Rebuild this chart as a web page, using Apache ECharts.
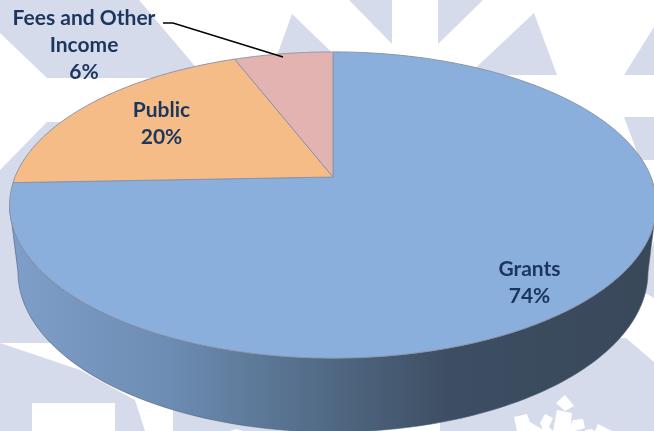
<!DOCTYPE html>
<html>
<head>
<meta charset="utf-8">
<style>
    html, body { margin: 0; padding: 0; background: #fff; }
    #main { width: 654px; height: 431px; }
</style>
<script src="https://cdn.jsdelivr.net/npm/echarts@6/dist/echarts.min.js"></script>
</head>
<body>
<div id="main"></div>
<script>
// clockwise from 12 o'clock is Grants, then Public, then Fees
const categories = ["Grants", "Public", "Fees and\u00a0Other\nIncome"];
const shares = [74.4, 19.7, 5.9];

const sliceColors = ["#8aafdc", "#f6bc88", "#e3b3b2"];
const labelSpots = [[529.5, 283], [161.5, 124], [84, 45]];
const leaderLine = [[163, 23], [173, 23], [283, 57]];

// tilted disc: circle centre, half sizes and perspective factor
const disc = { x: 333, y: 177, b: 318, a: 148, k: 0.183 };
const rim = { x: 333, y: 272, rx: 315, ry: 160 };

// watermark behind the pie
const shadeShapes = [
    [[0, 0], [139, 0], [205, 78], [47, 78], [0, 33]],
    [[292, 14], [345, 65], [270, 75]],
    [[0, 170], [47, 122], [120, 122], [120, 343], [0, 343]],
    [[0, 343], [80, 370], [135, 400], [145, 431], [115, 431], [115, 403], [32, 403], [32, 431], [0, 431]],
    [[173, 410], [300, 410], [300, 431], [173, 431]],
    [[349, 0], [392, 0], [392, 44]],
    [[438, 0], [483, 0], [438, 44]],
    [[534, 13], [557, 75], [468, 75]],
    [[654, 27], [654, 75], [624, 75]],
    [[624, 117], [654, 117], [654, 160], [640, 160]],
    [[654, 240], [654, 298], [640, 290]],
    [[626, 338], [654, 362], [654, 431], [440, 431], [440, 338]]
];
const whiteShapes = [
    [[565, 395], [574, 406], [565, 411], [556, 403]],
    [[557, 410], [572, 413], [570, 431], [553, 431]],
    [[514, 417], [527, 414], [530, 422], [542, 429], [543, 431], [517, 431]],
    [[545, 414], [553, 418], [549, 427], [553, 431], [542, 431], [542, 427], [540, 423]],
    [[573, 420], [583, 419], [585, 428], [575, 431], [568, 431]],
    [[598, 424], [610, 430], [612, 431], [595, 431]],
    [[585, 430], [592, 429], [594, 431], [585, 431]],
    [[230, 431], [236, 429], [243, 431]]
];

// position on the tilted disc, turn = share of the full circle clockwise from the top
const discPoint = turn => {
    const t = turn * Math.PI * 2;
    const u = Math.sin(t);
    const v = Math.cos(t);
    const d = 1 + disc.k * v;
    return [disc.x + (disc.b * u) / d, disc.y - (disc.a * v) / d];
};

const total = shares.reduce((s, v) => s + v, 0);

const renderSlice = (params, api) => {
    const i = params.dataIndex;
    let start = 0;
    for (let j = 0; j < i; j++) {
        start += shares[j] / total;
    }
    const end = start + api.value(0) / total;
    const points = [[disc.x, disc.y]];
    for (let s = 0; s <= 120; s++) {
        points.push(discPoint(start + ((end - start) * s) / 120));
    }
    const children = [
        {
            type: "polygon",
            shape: { points: points },
            style: { fill: sliceColors[i], stroke: "#8b95a8", lineWidth: 1 }
        },
        {
            type: "text",
            z2: 5,
            x: labelSpots[i][0],
            y: labelSpots[i][1],
            style: {
                text: categories[i] + "\n" + Math.round(api.value(0)) + "%",
                fill: "#1b365d",
                font: "bold 21px Lato",
                lineHeight: 27,
                align: "center",
                verticalAlign: "middle"
            }
        }
    ];
    return { type: "group", children: children };
};

// the outline of the disc as a plain ellipse, used for the wall's top edge
const discPointEdge = turn => {
    const t = turn * Math.PI * 2;
    const cy = disc.y + (disc.a * disc.k) / (1 - disc.k * disc.k);
    const ry = disc.a / (1 - disc.k * disc.k);
    const rx = disc.b / Math.sqrt(1 - disc.k * disc.k);
    return [disc.x + rx * Math.sin(t), cy - ry * Math.cos(t)];
};

// side wall under the disc, between the front edge and the lower rim
const renderWall = () => {
    const points = [];
    for (let s = 0; s <= 120; s++) {
        const t = 0.75 - (0.5 * s) / 120;
        points.push(discPointEdge(t));
    }
    for (let s = 120; s >= 0; s--) {
        const t = Math.PI * (s / 120);
        points.push([rim.x - rim.rx * Math.cos(t), rim.y + rim.ry * Math.sin(t)]);
    }
    return {
        type: "polygon",
        shape: { points: points },
        style: {
            fill: new echarts.graphic.LinearGradient(0, 0, 1, 0, [
                { offset: 0, color: "#7f9fca" },
                { offset: 0.25, color: "#6c8cb3" },
                { offset: 0.5, color: "#506882" },
                { offset: 0.68, color: "#3d4e63" },
                { offset: 1, color: "#394859" }
            ]),
            stroke: "#4a5f7c",
            lineWidth: 0.6
        }
    };
};

const backdrop = shadeShapes
    .map(points => ({
        type: "polygon",
        z: 0,
        shape: { points: points },
        style: { fill: "#d6dbec" }
    }))
    .concat(
        whiteShapes.map(points => ({
            type: "polygon",
            z: 1,
            shape: { points: points },
            style: { fill: "#fff" }
        }))
    );

const chart = echarts.init(document.getElementById("main"), null, { renderer: "canvas" });

chart.setOption({
    animation: false,
    backgroundColor: "#fff",
    graphic: {
        elements: backdrop.concat([
            {
                type: "polyline",
                z: 20,
                shape: { points: leaderLine },
                style: { stroke: "#000", lineWidth: 1.5, fill: null }
            }
        ])
    },
    xAxis: { show: false },
    yAxis: { show: false },
    series: [
        {
            type: "custom",
            coordinateSystem: "none",
            z: 5,
            silent: true,
            data: [[0]],
            renderItem: renderWall
        },
        {
            type: "custom",
            coordinateSystem: "none",
            z: 6,
            silent: true,
            data: shares.map(v => [v]),
            renderItem: renderSlice
        }
    ]
});
</script>
</body>
</html>
